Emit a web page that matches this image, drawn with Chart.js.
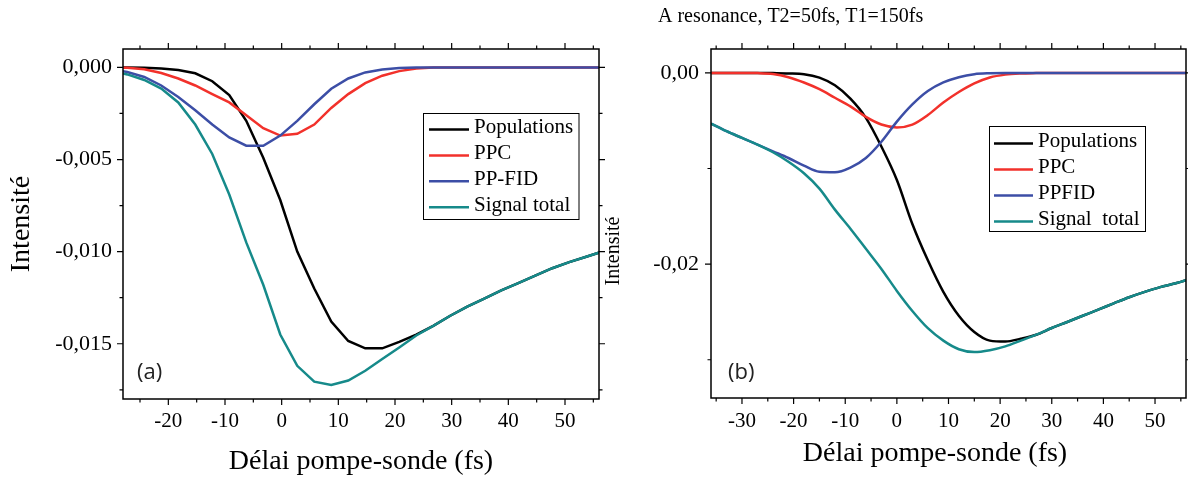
<!DOCTYPE html>
<html>
<head>
<meta charset="utf-8">
<script src="https://cdn.jsdelivr.net/npm/chart.js@4.4.1/dist/chart.umd.min.js"></script>
<style>
    html, body { margin: 0; padding: 0; background: #fff; }
    #wrap { position: relative; width: 1188px; height: 478px; overflow: hidden; }
    canvas { position: absolute; top: 0; }
    #panelA { left: 0; }
    #panelB { left: 600px; }
</style>
</head>
<body>
<div id="wrap">
    <canvas id="panelA" width="612" height="478"></canvas>
    <canvas id="panelB" width="588" height="478"></canvas>
</div>
<script>
// ---- data ----

// (a) left panel
const leftDelay = [-30.25, -27.25, -24.25, -21.25, -18.25, -15.25, -12.25, -9.25, -6.25, -3.25,
    -0.25, 2.75, 5.75, 8.75, 11.75, 14.75, 17.75, 20.75, 23.75, 26.75,
    29.75, 32.75, 35.75, 38.75, 41.75, 44.75, 47.75, 50.75, 53.75, 56.75];
const leftPopulations = [0, 0, -0.00002, -0.00006, -0.00014, -0.00032, -0.00075, -0.0015, -0.0029, -0.0049,
    -0.0072, -0.0100, -0.0120, -0.0138, -0.01485, -0.01525, -0.01525, -0.0149, -0.0145, -0.01403,
    -0.01348, -0.01298, -0.01255, -0.0121, -0.01171, -0.0113, -0.0109, -0.01057, -0.01028, -0.00998];
const leftPPC = [0, -0.00002, -0.0001, -0.0003, -0.0006, -0.00098, -0.00145, -0.0019, -0.0026, -0.0033,
    -0.0037, -0.0036, -0.0031, -0.0022, -0.00145, -0.00085, -0.00045, -0.0002, -0.00006, -0.00001,
    0, 0, 0, 0, 0, 0, 0, 0, 0, 0];
const leftPPFID = [-0.0001, -0.00025, -0.00052, -0.00098, -0.0016, -0.00233, -0.0031, -0.0038, -0.00425, -0.00425,
    -0.0037, -0.0029, -0.002, -0.00116, -0.0006, -0.00027, -0.00011, -0.00003, 0, 0,
    0, 0, 0, 0, 0, 0, 0, 0, 0, 0];
const leftSignalTotal = [-0.0002, -0.00038, -0.00068, -0.00115, -0.0019, -0.0031, -0.0047, -0.0069, -0.0095, -0.0118,
    -0.0145, -0.0162, -0.01706, -0.01724, -0.0170, -0.01647, -0.01583, -0.0152, -0.01455, -0.01403,
    -0.01348, -0.01298, -0.01255, -0.0121, -0.01171, -0.0113, -0.0109, -0.01057, -0.01028, -0.00998];
const leftLabels = ["Populations", "PPC", "PP-FID", "Signal total"];

// (b) right panel
const rightDelay = [-36, -33, -30, -27, -24, -21, -18, -15, -12, -9, -6, -3, 0, 3, 6, 9,
    12, 15, 18, 21, 24, 27, 30, 33, 36, 39, 42, 45, 48, 51, 54, 57];
const rightPopulations = [0, 0, 0, 0, -0.00002, -0.00005, -0.00013, -0.0005, -0.0013, -0.0027, -0.0047, -0.0077, -0.0112, -0.0158, -0.0196, -0.0229,
    -0.0254, -0.0271, -0.0280, -0.0281, -0.0278, -0.02738, -0.02668, -0.02605, -0.0254, -0.02476, -0.0241, -0.02346, -0.0229, -0.0224, -0.0220, -0.0215];
const rightPPC = [0, 0, 0, -0.00002, -0.00012, -0.00045, -0.001, -0.0017, -0.0026, -0.0035, -0.0046, -0.0054, -0.0057, -0.0054, -0.0044, -0.0031,
    -0.0020, -0.0011, -0.00048, -0.00018, -0.00006, -0.00002, 0, 0, 0, 0, 0, 0, 0, 0, 0, 0];
const rightPPFID = [-0.0053, -0.0061, -0.0068, -0.0075, -0.0082, -0.0089, -0.0097, -0.01035, -0.0104, -0.0099, -0.0089, -0.0072, -0.0051, -0.0033, -0.0019, -0.0010,
    -0.00045, -0.00013, -0.00003, 0, 0, 0, 0, 0, 0, 0, 0, 0, 0, 0, 0, 0];
const rightSignalTotal = [-0.0053, -0.0061, -0.0068, -0.0075, -0.0083, -0.0093, -0.0105, -0.0121, -0.0143, -0.0163, -0.0184, -0.0205, -0.0228, -0.0249, -0.0267, -0.0280,
    -0.0289, -0.0292, -0.0290, -0.0286, -0.0280, -0.02738, -0.02668, -0.02605, -0.0254, -0.02476, -0.0241, -0.02346, -0.0229, -0.0224, -0.0220, -0.0215];
const rightLabels = ["Populations", "PPC", "PPFID", "Signal  total"];

const seriesColors = ["#000000", "#f2312b", "#3c4ea6", "#168a8a"];

// ---- helpers ----

const SERIF = "'Liberation Serif', 'Times New Roman', serif";
const SANS  = "'Open Sans', 'Noto Sans', sans-serif";

Chart.defaults.font.family = SERIF;
Chart.defaults.color = "#000";

function commaFormat(digits)
{
    return (value) => {
        if (Math.abs(value) < 1e-12) {
            value = 0;
        }
        return value.toFixed(digits).replace(".", ",");
    };
}

function makeDatasets(xs, series, labels, smooth)
{
    return series.map((ys, i) => ({
        label: labels[i],
        data: xs.map((x, j) => ({ x: x, y: ys[j] })),
        borderColor: seriesColors[i],
        borderWidth: 2.5,
        pointRadius: 0,
        tension: smooth ? 0.4 : 0,
        cubicInterpolationMode: smooth ? "monotone" : "default",
        order: series.length - i,
        fill: false,
    }));
}

/**
 * Outward major/minor tick marks on all four sides, minors halfway between majors.
 */
function drawTickMarks(ctx, scale, horizontal, area)
{
    const majors = scale.ticks.map(t => t.value);
    const half   = (majors[1] - majors[0]) / 2;
    const start  = majors[0] - Math.floor((majors[0] - scale.min) / half + 1e-9) * half;

    for (let v = start; v <= scale.max + 1e-12; v += half) {
        const isMajor = Math.round((v - majors[0]) / half) % 2 === 0;
        const len = isMajor ? 6 : 3.5;
        const p = scale.getPixelForValue(v);

        ctx.beginPath();
        if (horizontal) {
            ctx.moveTo(p, area.bottom); ctx.lineTo(p, area.bottom + len);
            ctx.moveTo(p, area.top);    ctx.lineTo(p, area.top - len);
        } else {
            ctx.moveTo(area.left, p);  ctx.lineTo(area.left - len, p);
            ctx.moveTo(area.right, p); ctx.lineTo(area.right + len, p);
        }
        ctx.stroke();
    }
}

const decorPlugin = {
    id: "decor",
    afterDatasetsDraw(chart, args, opts)
    {
        const ctx  = chart.ctx;
        const area = chart.chartArea;

        ctx.save();
        ctx.strokeStyle = "#000";
        ctx.lineWidth = 1.5;
        ctx.strokeRect(area.left, area.top, area.right - area.left, area.bottom - area.top);

        ctx.lineWidth = 1.2;
        drawTickMarks(ctx, chart.scales.x, true, area);
        drawTickMarks(ctx, chart.scales.y, false, area);

        // legend box
        const lg = opts.legend;
        ctx.fillStyle = "#fff";
        ctx.fillRect(lg.x, lg.y, lg.w, lg.h);
        ctx.strokeStyle = "#000";
        ctx.lineWidth = 1;
        ctx.strokeRect(lg.x, lg.y, lg.w, lg.h);

        ctx.font = "21px " + SERIF;
        ctx.textBaseline = "middle";
        ctx.textAlign = "left";
        chart.data.datasets.forEach((ds, i) => {
            const y = lg.y + lg.firstRow + i * lg.rowGap;
            ctx.strokeStyle = ds.borderColor;
            ctx.lineWidth = 2.5;
            ctx.beginPath();
            ctx.moveTo(lg.lineX, y);
            ctx.lineTo(lg.lineX + lg.lineLen, y);
            ctx.stroke();
            ctx.fillStyle = "#000";
            ctx.fillText(ds.label, lg.textX, y - 2);
        });

        // panel letter
        ctx.font = "22px " + SANS;
        ctx.fillStyle = "#222";
        ctx.fillText(opts.letter.text, opts.letter.x, opts.letter.y);

        // free texts
        (opts.texts || []).forEach(t => {
            ctx.save();
            ctx.font = t.font;
            ctx.fillStyle = "#000";
            ctx.translate(t.x, t.y);
            if (t.rotate) {
                ctx.rotate(-Math.PI / 2);
            }
            ctx.textAlign = t.align || "left";
            ctx.textBaseline = "middle";
            ctx.fillText(t.text, 0, 0);
            ctx.restore();
        });

        ctx.restore();
    }
};

function baseOptions()
{
    return {
        responsive: false,
        animation: false,
        devicePixelRatio: 1,
        events: [],
        plugins: {
            legend: { display: false },
            tooltip: { enabled: false },
        },
    };
}

// ---- (a) ----

const optionsA = baseOptions();
optionsA.layout = { padding: { top: 49, right: 13, bottom: 0, left: 0 } };
optionsA.plugins.decor = {
    legend: { x: 423.5, y: 113.5, w: 155.5, h: 106, firstRow: 16, rowGap: 25.9, lineX: 429, lineLen: 40, textX: 474 },
    letter: { text: "(a)", x: 137, y: 373 },
};
optionsA.scales = {
    x: {
        type: "linear",
        min: -28,
        max: 56,
        grid: { display: false, drawTicks: false },
        border: { display: false },
        ticks: { stepSize: 10, includeBounds: false, padding: 10, autoSkip: false, maxRotation: 0, font: { size: 21 }, callback: v => String(v) },
        title: { display: true, text: "Délai pompe-sonde (fs)", font: { size: 28 }, padding: { top: 0, bottom: 0 } },
        afterFit: s => { s.height = 79; },
    },
    y: {
        type: "linear",
        min: -0.018,
        max: 0.001,
        grid: { display: false, drawTicks: false },
        border: { display: false },
        ticks: { stepSize: 0.005, includeBounds: false, padding: 11, autoSkip: false, font: { size: 22 }, callback: commaFormat(3) },
        title: { display: true, text: "Intensité", font: { size: 28 }, padding: { top: 5, bottom: 0 } },
        afterFit: s => { s.width = 123; },
    },
};

new Chart(document.getElementById("panelA"), {
    type: "line",
    data: { datasets: makeDatasets(leftDelay, [leftPopulations, leftPPC, leftPPFID, leftSignalTotal], leftLabels, false) },
    options: optionsA,
    plugins: [decorPlugin],
});

// ---- (b) ----

const optionsB = baseOptions();
optionsB.layout = { padding: { top: 49, right: 2, bottom: 0, left: 0 } };
optionsB.plugins.decor = {
    legend: { x: 389.5, y: 126.5, w: 156, h: 105, firstRow: 17, rowGap: 26, lineX: 394, lineLen: 39, textX: 438 },
    letter: { text: "(b)", x: 128, y: 373 },
    texts: [
        { text: "A resonance, T2=50fs, T1=150fs", x: 58, y: 17, font: "20px " + SERIF },
        { text: "Intensité", x: 14, y: 251, font: "20px " + SERIF, rotate: true, align: "center" },
        { text: "Délai pompe-sonde (fs)", x: 335, y: 454, font: "28px " + SERIF, align: "center" },
    ],
};
optionsB.scales = {
    x: {
        type: "linear",
        min: -36,
        max: 56,
        grid: { display: false, drawTicks: false },
        border: { display: false },
        ticks: { stepSize: 10, includeBounds: false, padding: 11, autoSkip: false, maxRotation: 0, font: { size: 21 }, callback: v => String(v) },
        afterFit: s => { s.height = 80; },
    },
    y: {
        type: "linear",
        min: -0.034,
        max: 0.0025,
        grid: { display: false, drawTicks: false },
        border: { display: false },
        ticks: { stepSize: 0.02, includeBounds: false, padding: 12, autoSkip: false, font: { size: 22 }, callback: commaFormat(2) },
        afterFit: s => { s.width = 111; },
    },
};

new Chart(document.getElementById("panelB"), {
    type: "line",
    data: { datasets: makeDatasets(rightDelay, [rightPopulations, rightPPC, rightPPFID, rightSignalTotal], rightLabels, true) },
    options: optionsB,
    plugins: [decorPlugin],
});
</script>
</body>
</html>
